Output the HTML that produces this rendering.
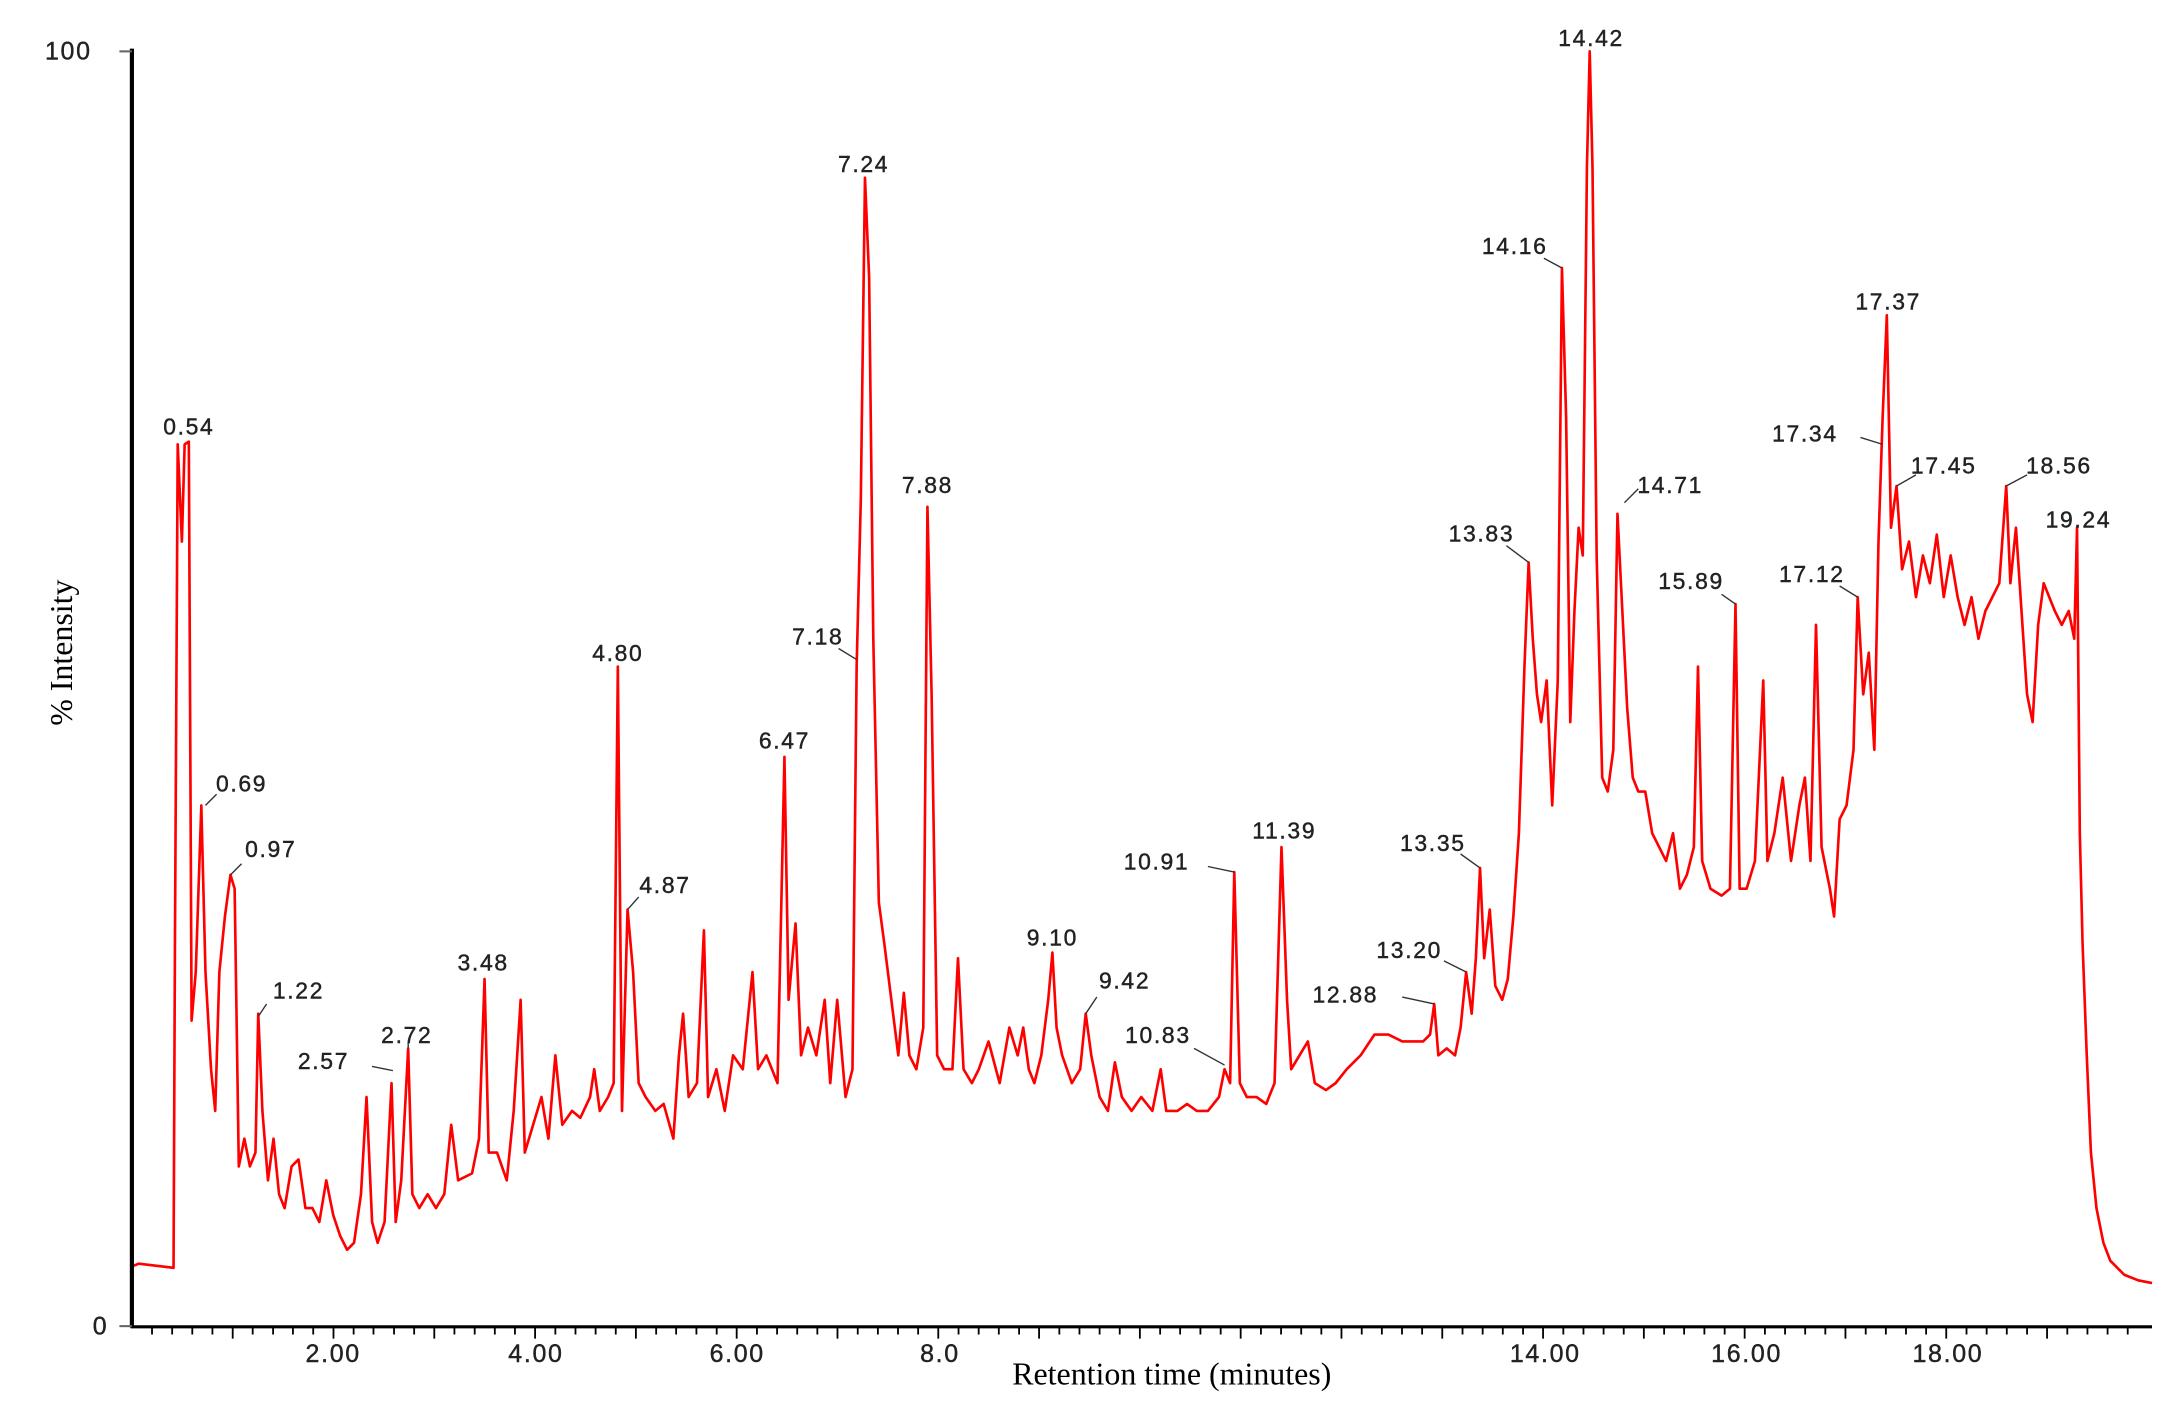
<!DOCTYPE html>
<html><head><meta charset="utf-8"><style>
html,body{margin:0;padding:0;background:#fff;}
svg{display:block;}
.l{font-family:"Liberation Sans",sans-serif;font-size:16.5px;fill:#222;letter-spacing:1.2px;text-anchor:middle;stroke:#222;stroke-width:0.3px;}
.t{font-family:"Liberation Sans",sans-serif;font-size:18px;fill:#222;letter-spacing:1.2px;text-anchor:middle;stroke:#222;stroke-width:0.3px;}
.s{font-family:"Liberation Serif",serif;font-size:23px;fill:#000;}
</style></head><body>
<svg width="2177" height="1415" viewBox="0 0 1568 1019" preserveAspectRatio="none" xmlns="http://www.w3.org/2000/svg">
<rect width="1568" height="1019" fill="#fff"/>
<path fill="none" stroke="#ff0000" stroke-width="1.9" stroke-linejoin="round" d="M95,912 L100,910 L125,913 L126,680 L128,320 L131,390 L133,320 L136,318 L138,735 L141,700 L145,580 L148,700 L152,770 L155,800 L158,700 L162,660 L166,630 L169,640 L172,840 L176,820 L180,840 L184,830 L186,730 L189,800 L193,850 L197,820 L201,860 L205,870 L210,840 L215,835 L220,870 L225,870 L230,880 L235,850 L240,875 L245,890 L250,900 L255,895 L260,860 L264,790 L268,880 L272,895 L277,880 L282,780 L285,880 L289,850 L294,755 L297,860 L302,870 L308,860 L314,870 L320,860 L325,810 L330,850 L340,845 L345,820 L349,705 L352,830 L358,830 L365,850 L370,800 L375,720 L378,830 L384,810 L390,790 L395,820 L400,760 L405,810 L412,800 L418,805 L425,790 L428,770 L432,800 L438,790 L442,780 L445,480 L448,800 L452,655 L456,700 L460,780 L465,790 L472,800 L478,795 L485,820 L489,760 L492,730 L496,790 L502,780 L507,670 L510,790 L516,770 L522,800 L528,760 L535,770 L542,700 L546,770 L552,760 L560,780 L565,545 L568,720 L573,665 L577,760 L582,740 L588,760 L594,720 L598,780 L603,720 L609,790 L614,770 L617,480 L620,360 L623,128 L626,200 L629,460 L633,650 L637,680 L642,720 L647,760 L651,715 L655,760 L660,770 L665,740 L668,365 L671,500 L675,760 L680,770 L686,770 L690,690 L694,770 L700,780 L705,770 L712,750 L720,780 L727,740 L733,760 L737,740 L741,770 L745,780 L750,760 L755,720 L758,686 L761,740 L765,760 L772,780 L778,770 L782,730 L786,760 L792,790 L798,800 L803,765 L808,790 L815,800 L822,790 L830,800 L836,770 L840,800 L848,800 L855,795 L862,800 L870,800 L878,790 L882,770 L886,780 L889,628 L893,780 L898,790 L905,790 L912,795 L918,780 L923,610 L927,720 L930,770 L936,760 L942,750 L947,780 L955,785 L962,780 L970,770 L980,760 L990,745 L1000,745 L1010,750 L1020,750 L1025,750 L1030,745 L1033,723 L1036,760 L1042,755 L1048,760 L1052,740 L1056,700 L1060,730 L1063,690 L1066,625 L1069,690 L1073,655 L1077,710 L1082,720 L1086,705 L1090,660 L1094,600 L1098,480 L1101,405 L1104,460 L1107,500 L1110,520 L1114,490 L1118,580 L1122,490 L1125,193 L1128,300 L1131,520 L1134,440 L1137,380 L1140,400 L1143,120 L1145,37 L1147,120 L1150,400 L1154,560 L1158,570 L1162,540 L1165,370 L1168,430 L1172,510 L1176,560 L1180,570 L1185,570 L1190,600 L1195,610 L1200,620 L1205,600 L1210,640 L1215,630 L1220,610 L1223,480 L1226,620 L1232,640 L1240,645 L1246,640 L1250,435 L1253,640 L1258,640 L1264,620 L1270,490 L1273,620 L1278,600 L1284,560 L1290,620 L1296,580 L1300,560 L1304,620 L1308,450 L1312,610 L1318,640 L1321,660 L1325,590 L1330,580 L1335,540 L1338,430 L1342,500 L1346,470 L1350,540 L1353,390 L1356,300 L1359,227 L1362,380 L1366,350 L1370,410 L1375,390 L1380,430 L1385,400 L1390,420 L1395,385 L1400,430 L1405,400 L1410,430 L1415,450 L1420,430 L1425,460 L1430,440 L1435,430 L1440,420 L1445,350 L1448,420 L1452,380 L1456,440 L1460,500 L1464,520 L1468,450 L1472,420 L1476,430 L1480,440 L1485,450 L1490,440 L1494,460 L1496,380 L1498,600 L1500,680 L1503,760 L1506,830 L1510,870 L1515,895 L1520,908 L1530,918 L1540,922 L1550,924"/>
<line x1="95" y1="35" x2="95" y2="956" stroke="#000" stroke-width="3"/>
<line x1="94" y1="955.5" x2="1550" y2="955.5" stroke="#000" stroke-width="2.2"/>
<line x1="86" y1="37" x2="95" y2="37" stroke="#666" stroke-width="1.5"/>
<line x1="86" y1="955" x2="95" y2="955" stroke="#666" stroke-width="1.5"/>
<text class="t" x="66" y="43" style="text-anchor:end">100</text>
<text class="t" x="78" y="961" style="text-anchor:end">0</text>
<g stroke="#000" stroke-width="1.3">
<path d="M109.5,955V961M124,955V961M138.5,955V961M153,955V961M167.6,955V964M182,955V961M196.7,955V961M211,955V961M225.6,955V961M240.2,955V964M254.7,955V961M269,955V961M283.8,955V961M298.3,955V961M312.8,955V964M327.3,955V961M341.9,955V961M356.4,955V961M370.9,955V961M385.4,955V964M400,955V961M414.5,955V961M429,955V961M443.5,955V961M458,955V964M472.6,955V961M487,955V961M501.6,955V961M516.2,955V961M530.6,955V964M545.2,955V961M559.7,955V961M574.2,955V961M588.7,955V961M603.2,955V964M617.8,955V961M632.3,955V961M646.8,955V961M661.3,955V961M675.8,955V964M690.4,955V961M704.9,955V961M719.4,955V961M734,955V961M748.4,955V964M763,955V961M777.5,955V961M792,955V961M806.5,955V961M821,955V964M835.6,955V961M850,955V961M864.6,955V961M879.2,955V961M893.6,955V964M908.2,955V961M922.7,955V961M937.2,955V961M951.7,955V961M966.2,955V964M980.8,955V961M995.3,955V961M1009.8,955V961M1024.3,955V961M1038.8,955V964M1053.4,955V961M1067.9,955V961M1082.4,955V961M1097,955V961M1111.4,955V964M1126,955V961M1140.5,955V961M1155,955V961M1169.5,955V961M1184,955V964M1198.6,955V961M1213,955V961M1227.6,955V961M1242.2,955V961M1256.6,955V964M1271.2,955V961M1285.7,955V961M1300.2,955V961M1314.7,955V961M1329.2,955V964M1343.8,955V961M1358.3,955V961M1372.8,955V961M1387.3,955V961M1401.8,955V964M1416.4,955V961M1430.9,955V961M1445.4,955V961M1460,955V961M1474.4,955V964M1489,955V961M1503.5,955V961M1518,955V961M1532.5,955V961"/>
</g>
<g class="t">
<text x="240" y="981">2.00</text><text x="386" y="981">4.00</text><text x="531" y="981">6.00</text><text x="677" y="981">8.0</text>
<text x="1113" y="981">14.00</text><text x="1258" y="981">16.00</text><text x="1403" y="981">18.00</text>
</g>
<text class="s" x="844" y="997" style="text-anchor:middle">Retention time (minutes)</text>
<text class="s" x="52" y="470" transform="rotate(-90 52 470)" style="text-anchor:middle">% Intensity</text>
<g stroke="#333" stroke-width="1">
<path d="M148,580L156,572M166,630L174,622M186,732L192,723M268,768L283,771M294,755L294,751M452,655L460,646M604,467L617,475M782,730L790,718M860,755L882,767M870,624L889,628M1010,718L1033,723M1040,692L1056,700M1052,615L1066,625M1085,393L1101,405M1112,186L1125,193M1170,362L1180,352M1240,428L1250,435M1325,422L1338,430M1340,315L1356,320M1366,350L1380,342M1445,350L1460,342"/>
</g>
<g class="l">
<text x="136" y="313">0.54</text><text x="174" y="570">0.69</text><text x="195" y="617">0.97</text><text x="215" y="719">1.22</text>
<text x="233" y="770">2.57</text><text x="293" y="751">2.72</text><text x="348" y="699">3.48</text><text x="445" y="476">4.80</text>
<text x="479" y="643">4.87</text><text x="565" y="539">6.47</text><text x="589" y="464">7.18</text><text x="622" y="124">7.24</text>
<text x="668" y="355">7.88</text><text x="758" y="681">9.10</text><text x="810" y="712">9.42</text><text x="834" y="751">10.83</text>
<text x="833" y="626">10.91</text><text x="925" y="604">11.39</text><text x="969" y="722">12.88</text><text x="1015" y="690">13.20</text>
<text x="1032" y="613">13.35</text><text x="1067" y="390">13.83</text><text x="1091" y="183">14.16</text><text x="1146" y="33">14.42</text>
<text x="1203" y="355">14.71</text><text x="1218" y="424">15.89</text><text x="1305" y="419">17.12</text><text x="1300" y="318">17.34</text>
<text x="1360" y="223">17.37</text><text x="1400" y="341">17.45</text><text x="1483" y="341">18.56</text><text x="1497" y="380">19.24</text>
</g>
</svg>
</body></html>
